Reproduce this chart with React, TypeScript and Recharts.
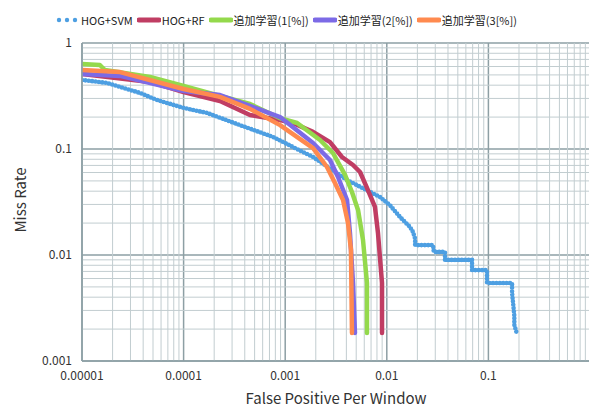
import { LineChart, Line, XAxis, YAxis, CartesianGrid, ReferenceLine, Legend, Label } from "recharts";

const FONT = '"Noto Sans CJK JP", "Noto Sans", sans-serif';

const xTicks = [0.00001, 0.0001, 0.001, 0.01, 0.1, 1];
const yTicks = [0.001, 0.01, 0.1, 1];

// HOG+SVM
const svmFppw = [
  1e-5, 1.76e-5, 3.72e-5, 5.47e-5, 1e-4, 1.7e-4, 3.59e-4, 7.59e-4, 1.19e-3, 1.88e-3, 4.06e-3,
  8.57e-3, 0.0107, 0.0135, 0.0169, 0.0181, 0.019, 0.019, 0.0285, 0.029, 0.0374, 0.0374, 0.069,
  0.069, 0.0969, 0.0969, 0.171, 0.171, 0.175, 0.18, 0.18, 0.191,
];
const svmMiss = [
  0.448, 0.42, 0.338, 0.29, 0.244, 0.219, 0.168, 0.13, 0.1045, 0.0841, 0.051, 0.0352, 0.0296,
  0.0228, 0.0184, 0.0165, 0.0142, 0.0124, 0.0124, 0.0107, 0.0107, 0.009, 0.009, 0.0072, 0.0072,
  0.00544, 0.00544, 0.00438, 0.00352, 0.00266, 0.00219, 0.0018,
];

// HOG+RF
const rfFppw = [
  1e-5, 4.67e-5, 1e-4, 2.28e-4, 4.5e-4, 8.9e-4, 1.19e-3, 1.88e-3, 2.76e-3, 3.62e-3, 4.65e-3,
  5.45e-3, 6.38e-3, 7.65e-3, 8.19e-3, 8.97e-3, 8.97e-3,
];
const rfMiss = [
  0.51, 0.429, 0.345, 0.284, 0.209, 0.188, 0.176, 0.145, 0.116, 0.0841, 0.0706, 0.0607, 0.0429,
  0.0284, 0.0161, 0.00544, 0.00184,
];

// 追加学習(1[%])
const add1Fppw = [
  1e-5, 1.5e-5, 1.68e-5, 4.67e-5, 1e-4, 2.28e-4, 4.5e-4, 8.9e-4, 1.31e-3, 2.2e-3, 2.95e-3,
  3.88e-3, 4.54e-3, 5.21e-3, 5.83e-3, 6.38e-3, 6.38e-3,
];
const add1Miss = [
  0.634, 0.62, 0.556, 0.478, 0.393, 0.316, 0.266, 0.195, 0.176, 0.1216, 0.0917, 0.0569, 0.0393,
  0.0266, 0.0139, 0.00544, 0.00184,
];

// 追加学習(2[%])
const add2Fppw = [
  1e-5, 2.37e-5, 1e-4, 2.28e-4, 4.5e-4, 8.9e-4, 1.88e-3, 2.76e-3, 3.31e-3, 4.06e-3, 4.34e-3,
  4.65e-3, 4.86e-3,
];
const add2Miss = [
  0.51, 0.489, 0.352, 0.323, 0.255, 0.2, 0.114, 0.0787, 0.0544, 0.033, 0.0161, 0.00544, 0.00184,
];

// 追加学習(3[%])
const add3Fppw = [
  1e-5, 2.37e-5, 1e-4, 2.28e-4, 4.5e-4, 8.9e-4, 1.88e-3, 2.58e-3, 3.09e-3, 3.71e-3, 4.15e-3,
  4.44e-3, 4.54e-3,
];
const add3Miss = [
  0.556, 0.532, 0.368, 0.31, 0.239, 0.168, 0.102, 0.0676, 0.0478, 0.033, 0.02, 0.01114, 0.00184,
];

const toPoints = (fppw: number[], miss: number[]) => fppw.map((x, i) => ({ fppw: x, miss: miss[i] }));

const series = [
  { name: "HOG+SVM", color: "#4d9fe2", data: toPoints(svmFppw, svmMiss), dotted: true },
  { name: "HOG+RF", color: "#c03d63", data: toPoints(rfFppw, rfMiss) },
  { name: "追加学習(1[%])", color: "#94d94c", data: toPoints(add1Fppw, add1Miss) },
  { name: "追加学習(2[%])", color: "#7c6ae6", data: toPoints(add2Fppw, add2Miss) },
  { name: "追加学習(3[%])", color: "#ff8a4f", data: toPoints(add3Fppw, add3Miss) },
];

// 2..9 between each decade, for the light grid
const minors = (majors: number[]) =>
  majors.slice(0, -1).flatMap((m) => [2, 3, 4, 5, 6, 7, 8, 9].map((k) => m * k));

// the "1" on the x axis falls off the right edge in the original
const fmtX = (v: number) => (v >= 1 ? "" : String(v));
const fmtY = (v: number) => String(v);

function LegendBox() {
  return (
    <div style={{ display: "flex", alignItems: "center", fontSize: 11, color: "#222", fontFamily: FONT }}>
      {series.map((s) => (
        <div key={s.name} style={{ display: "flex", alignItems: "center", marginRight: 4 }}>
          <svg width={24} height={8} style={{ marginRight: 1 }}>
            {s.dotted ? (
              [3, 11, 19].map((cx) => <circle key={cx} cx={cx} cy={4} r={2.2} fill={s.color} />)
            ) : (
              <line x1={2} x2={22} y1={4} y2={4} stroke={s.color} strokeWidth={5} strokeLinecap="round" />
            )}
          </svg>
          <span>{s.name}</span>
        </div>
      ))}
    </div>
  );
}

export default function App() {
  return (
    <div style={{ position: "absolute", left: 0, top: 0, width: 589, height: 408, overflow: "hidden", background: "#fff" }}>
      <LineChart width={595} height={408} margin={{ top: 43, right: 5, bottom: 17, left: 0 }}>
        {minors(xTicks).map((v) => (
          <ReferenceLine key={"x" + v} x={v} stroke="#c2cdd0" strokeWidth={1} />
        ))}
        {minors(yTicks).map((v) => (
          <ReferenceLine key={"y" + v} y={v} stroke="#c2cdd0" strokeWidth={1} />
        ))}
        <CartesianGrid stroke="#8d9fa4" strokeWidth={1.5} />
        <XAxis
          dataKey="fppw"
          type="number"
          scale="log"
          domain={[0.00001, 1]}
          ticks={xTicks}
          tickFormatter={fmtX}
          allowDataOverflow
          height={30}
          axisLine={{ stroke: "#8d9fa4", strokeWidth: 1.5 }}
          tickLine={false}
          tickSize={0}
          tickMargin={10}
          tick={{ fill: "#333", fontSize: 12, fontFamily: FONT }}
        >
          <Label
            content={() => (
              <text x={336} y={404} textAnchor="middle" fontSize={15} fill="#333" fontFamily={FONT}>
                False Positive Per Window
              </text>
            )}
          />
        </XAxis>
        <YAxis
          type="number"
          scale="log"
          domain={[0.001, 1]}
          ticks={yTicks}
          tickFormatter={fmtY}
          allowDataOverflow
          width={82}
          axisLine={{ stroke: "#8d9fa4", strokeWidth: 1.5 }}
          tickLine={false}
          tickSize={0}
          tickMargin={10}
          tick={{ fill: "#333", fontSize: 12, fontFamily: FONT }}
        >
          <Label
            content={() => (
              <text
                x={19}
                y={200}
                transform="rotate(-90, 19, 200)"
                textAnchor="middle"
                dominantBaseline="central"
                fontSize={15}
                fill="#333"
                fontFamily={FONT}
              >
                Miss Rate
              </text>
            )}
          />
        </YAxis>
        <Legend
          layout="horizontal"
          verticalAlign="middle"
          align="center"
          content={() => <LegendBox />}
          wrapperStyle={{ top: 12, left: 56, width: "auto" }}
        />
        {series.map((s) => (
          <Line
            key={s.name}
            name={s.name}
            data={s.data}
            dataKey="miss"
            type="linear"
            stroke={s.color}
            strokeWidth={s.dotted ? 4.6 : 4.5}
            strokeDasharray={s.dotted ? "0 3.4" : undefined}
            strokeLinecap="round"
            strokeLinejoin="round"
            dot={false}
            activeDot={false}
            isAnimationActive={false}
          />
        ))}
      </LineChart>
    </div>
  );
}
